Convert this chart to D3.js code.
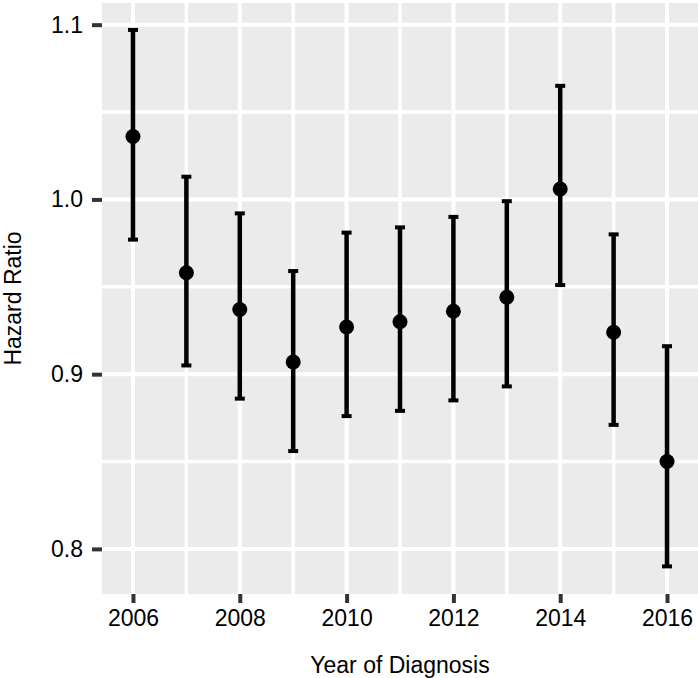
<!DOCTYPE html>
<html lang="en">

<head>
	<meta charset="utf-8">
	<title>Hazard Ratio by Year of Diagnosis</title>
	<script type="text/javascript" src="https://cdn.jsdelivr.net/npm/d3@7"></script>
	<style type="text/css">
		body {
			margin: 0;
			background: white;
		}
		text {
			font-family: "Liberation Sans", Arial, Helvetica, sans-serif;
		}
	</style>
</head>

<body>
	<script type="text/javascript">

		// data
		var years = [2006, 2007, 2008, 2009, 2010, 2011, 2012, 2013, 2014, 2015, 2016];
		var hr = [1.036, 0.958, 0.937, 0.907, 0.927, 0.930, 0.936, 0.944, 1.006, 0.924, 0.850];
		var lower = [0.977, 0.905, 0.886, 0.856, 0.876, 0.879, 0.885, 0.893, 0.951, 0.871, 0.790];
		var upper = [1.097, 1.013, 0.992, 0.959, 0.981, 0.984, 0.990, 0.999, 1.065, 0.980, 0.916];

		var xTicks = [2006, 2008, 2010, 2012, 2014, 2016];
		var xMinor = [2007, 2009, 2011, 2013, 2015];
		var yTicks = [0.8, 0.9, 1.0, 1.1];
		var yMinor = [0.85, 0.95, 1.05];

		// create svg element
		var w = 698;
		var h = 678;
		var margin = {top: 3, right: 0, bottom: 84, left: 102};

		var svg = d3.select("body")
			.append("svg")
			.attr("width", w)
			.attr("height", h);

		var x = d3.scaleLinear()
			.domain([2005.42, 2016.58])
			.range([margin.left, w - margin.right]);

		var y = d3.scaleLinear()
			.domain([0.7742, 1.1124])
			.range([h - margin.bottom, margin.top]);

		// panel background
		svg.append("rect")
			.attr("x", margin.left)
			.attr("y", margin.top)
			.attr("width", w - margin.right - margin.left)
			.attr("height", h - margin.bottom - margin.top)
			.attr("fill", "#ebebeb");

		// grid lines, minor first then major
		var grid = svg.append("g");

		function hLines(vals, sw) {
			grid.selectAll(null)
				.data(vals)
				.enter()
				.append("line")
				.attr("x1", margin.left)
				.attr("x2", w - margin.right)
				.attr("y1", function(d){ return y(d); })
				.attr("y2", function(d){ return y(d); })
				.attr("stroke", "white")
				.attr("stroke-width", sw);
		}

		function vLines(vals, sw) {
			grid.selectAll(null)
				.data(vals)
				.enter()
				.append("line")
				.attr("y1", margin.top)
				.attr("y2", h - margin.bottom)
				.attr("x1", function(d){ return x(d); })
				.attr("x2", function(d){ return x(d); })
				.attr("stroke", "white")
				.attr("stroke-width", sw);
		}

		hLines(yMinor, 3.5);
		vLines(xMinor, 3.5);
		hLines(yTicks, 4);
		vLines(xTicks, 4);

		// axes
		var xAxis = svg.append("g")
			.attr("transform", "translate(0," + (h - margin.bottom) + ")")
			.call(d3.axisBottom(x).tickValues(xTicks).tickFormat(d3.format("d")).tickSize(9).tickPadding(7));

		var yAxis = svg.append("g")
			.attr("transform", "translate(" + margin.left + ",0)")
			.call(d3.axisLeft(y).tickValues(yTicks).tickFormat(d3.format(".1f")).tickSize(10).tickPadding(9));

		[xAxis, yAxis].forEach(function(a){
			a.select(".domain").remove();
			a.selectAll(".tick line")
				.attr("stroke", "#333333")
				.attr("stroke-width", 4);
			a.selectAll(".tick text")
				.attr("fill", "black")
				.attr("font-size", "23px");
		});

		// error bars
		var bars = svg.append("g");

		bars.selectAll(null)
			.data(years)
			.enter()
			.append("line")
			.attr("x1", function(d){ return x(d); })
			.attr("x2", function(d){ return x(d); })
			.attr("y1", function(d, i){ return y(lower[i]); })
			.attr("y2", function(d, i){ return y(upper[i]); })
			.attr("stroke", "black")
			.attr("stroke-width", 4.5);

		[lower, upper].forEach(function(arr){
			bars.selectAll(null)
				.data(years)
				.enter()
				.append("line")
				.attr("x1", function(d){ return x(d) - 5; })
				.attr("x2", function(d){ return x(d) + 5; })
				.attr("y1", function(d, i){ return y(arr[i]); })
				.attr("y2", function(d, i){ return y(arr[i]); })
				.attr("stroke", "black")
				.attr("stroke-width", 4);
		});

		// points
		svg.selectAll("circle")
			.data(years)
			.enter()
			.append("circle")
			.attr("cx", function(d){ return x(d); })
			.attr("cy", function(d, i){ return y(hr[i]); })
			.attr("r", 7.5)
			.attr("fill", "black");

		// axis titles
		svg.append("text")
			.attr("x", (margin.left + w - margin.right) / 2)
			.attr("y", 673)
			.attr("text-anchor", "middle")
			.attr("font-size", "23px")
			.attr("fill", "black")
			.text("Year of Diagnosis");

		svg.append("text")
			.attr("transform", "translate(21," + ((margin.top + h - margin.bottom) / 2) + ") rotate(-90)")
			.attr("text-anchor", "middle")
			.attr("font-size", "23px")
			.attr("fill", "black")
			.text("Hazard Ratio");

	</script>
</body>

</html>
